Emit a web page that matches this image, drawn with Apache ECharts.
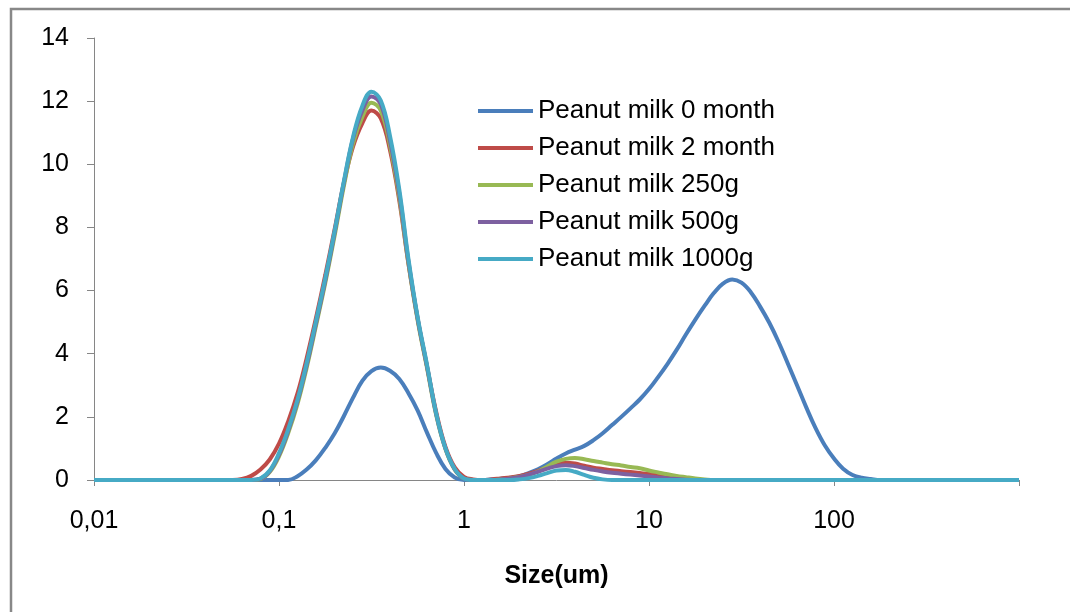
<!DOCTYPE html>
<html>
<head>
<meta charset="utf-8">
<script src="https://cdn.jsdelivr.net/npm/echarts@6/dist/echarts.min.js"></script>
<style>
  html, body { margin: 0; padding: 0; background: #fff; }
  #chart { width: 1070px; height: 612px; }
</style>
</head>
<body>
<div id="chart"></div>
<script>
// particle size (um), log spaced bins
var sizes = [
  0.01, 0.0501, 0.0562, 0.0631, 0.0708, 0.0794, 0.0891, 0.1, 0.112, 0.126,
  0.141, 0.158, 0.178, 0.2, 0.224, 0.251, 0.282, 0.316, 0.355, 0.398,
  0.447, 0.501, 0.562, 0.631, 0.708, 0.794, 0.891, 1.0, 1.12, 1.26,
  1.41, 1.58, 1.78, 2.0, 2.24, 2.51, 2.82, 3.16, 3.55, 3.98,
  4.47, 5.01, 5.62, 6.31, 7.08, 7.94, 8.91, 10, 11.2, 12.6,
  14.1, 15.8, 17.8, 20, 22.4, 25.1, 28.2, 31.6, 35.5, 39.8,
  44.7, 50.1, 56.2, 63.1, 70.8, 79.4, 89.1, 100, 112, 126,
  141, 158, 178, 200, 1000
];

var seriesNames = ['Peanut milk 0 month', 'Peanut milk 2 month', 'Peanut milk 250g', 'Peanut milk 500g', 'Peanut milk 1000g'];
var colors = ['#4A7EBB', '#BE4B48', '#98B954', '#7D60A0', '#46AAC5'];

var milk0 = [
  0, 0, 0, 0, 0, 0, 0, 0, 0, 0.12,
  0.33, 0.62, 1.02, 1.48, 2.02, 2.6, 3.14, 3.45, 3.56, 3.46,
  3.2, 2.75, 2.2, 1.5, 0.85, 0.35, 0.08, 0, 0, 0,
  0.02, 0.04, 0.07, 0.12, 0.22, 0.34, 0.5, 0.68, 0.84, 0.96,
  1.08, 1.26, 1.48, 1.74, 2.0, 2.27, 2.55, 2.88, 3.26, 3.68,
  4.12, 4.6, 5.08, 5.52, 5.92, 6.22, 6.35, 6.25, 5.95, 5.5,
  4.98, 4.38, 3.7, 3.0, 2.3, 1.65, 1.1, 0.68, 0.36, 0.16,
  0.07, 0.03, 0, 0, 0
];
var milk2 = [
  0, 0, 0, 0.03, 0.13, 0.33, 0.65, 1.15, 1.85, 2.75,
  3.85, 5.1, 6.5, 7.95, 9.4, 10.55, 11.3, 11.7, 11.45, 10.45,
  8.85, 6.85, 5.1, 3.6, 2.15, 1.05, 0.4, 0.1, 0.02, 0,
  0.02, 0.05, 0.08, 0.13, 0.2, 0.29, 0.4, 0.5, 0.55, 0.52,
  0.45, 0.39, 0.35, 0.31, 0.28, 0.25, 0.22, 0.19, 0.15, 0.11,
  0.07, 0.04, 0.02, 0, 0, 0, 0, 0, 0, 0,
  0, 0, 0, 0, 0, 0, 0, 0, 0, 0,
  0, 0, 0, 0, 0
];
var milk250 = [
  0, 0, 0, 0, 0, 0.03, 0.25, 0.75, 1.48, 2.42,
  3.55, 4.85, 6.25, 7.75, 9.3, 10.65, 11.5, 11.95, 11.7, 10.6,
  8.95, 6.85, 5.05, 3.55, 2.05, 0.98, 0.33, 0.05, 0, 0,
  0, 0.02, 0.05, 0.1, 0.16, 0.27, 0.43, 0.58, 0.67, 0.7,
  0.66, 0.6, 0.55, 0.5, 0.46, 0.41, 0.37, 0.3, 0.24, 0.18,
  0.13, 0.09, 0.05, 0.02, 0, 0, 0, 0, 0, 0,
  0, 0, 0, 0, 0, 0, 0, 0, 0, 0,
  0, 0, 0, 0, 0
];
var milk500 = [
  0, 0, 0, 0, 0, 0.04, 0.28, 0.8, 1.55, 2.5,
  3.63, 4.93, 6.33, 7.85, 9.4, 10.8, 11.7, 12.15, 11.9, 10.75,
  9.08, 6.92, 5.1, 3.6, 2.08, 1.0, 0.34, 0.05, 0, 0,
  0, 0.02, 0.05, 0.1, 0.17, 0.26, 0.36, 0.44, 0.47, 0.44,
  0.38, 0.32, 0.27, 0.23, 0.2, 0.17, 0.14, 0.11, 0.08, 0.05,
  0.03, 0.01, 0, 0, 0, 0, 0, 0, 0, 0,
  0, 0, 0, 0, 0, 0, 0, 0, 0, 0,
  0, 0, 0, 0, 0
];
var milk1000 = [
  0, 0, 0, 0, 0, 0.05, 0.3, 0.85, 1.6, 2.55,
  3.7, 5.0, 6.4, 7.9, 9.45, 10.85, 11.85, 12.3, 12.02, 10.9,
  9.2, 7.0, 5.15, 3.65, 2.1, 1.0, 0.35, 0.05, 0, 0,
  0, 0, 0, 0.02, 0.06, 0.13, 0.22, 0.3, 0.32, 0.26,
  0.16, 0.07, 0.02, 0, 0, 0, 0, 0, 0, 0,
  0, 0, 0, 0, 0, 0, 0, 0, 0, 0,
  0, 0, 0, 0, 0, 0, 0, 0, 0, 0,
  0, 0, 0, 0, 0
];
var allValues = [milk0, milk2, milk250, milk500, milk1000];

var yTicks = [0, 2, 4, 6, 8, 10, 12, 14];

function pairs(vals) {
  return sizes.map(function (s, i) { return [s, vals[i]]; });
}

var chart = echarts.init(document.getElementById('chart'), null, { renderer: 'canvas' });
var font = 'Liberation Sans, Arial, sans-serif';
var axisGray = '#868686';

chart.setOption({
  animation: false,
  backgroundColor: '#fff',
  color: colors,
  grid: { left: 94, right: 51, top: 38, bottom: 132, containLabel: false },
  graphic: [{
    type: 'rect',
    shape: { x: 11, y: 9, width: 1100, height: 700 },
    style: { fill: 'none', stroke: '#888', lineWidth: 2.5 },
    silent: true
  }],
  legend: {
    orient: 'vertical',
    left: 473,
    top: 91,
    icon: 'rect',
    itemWidth: 55,
    itemHeight: 4,
    itemGap: 7,
    textStyle: { fontFamily: font, fontSize: 26, color: '#000', lineHeight: 30 },
    data: seriesNames
  },
  xAxis: {
    type: 'log',
    logBase: 10,
    min: 0.01,
    max: 1000,
    name: 'Size(um)',
    nameLocation: 'middle',
    nameGap: 84,
    nameTextStyle: { fontFamily: font, fontSize: 25, fontWeight: 'bold', color: '#000' },
    axisLine: { lineStyle: { color: axisGray, width: 1 } },
    axisTick: { show: true, length: 6, lineStyle: { color: axisGray } },
    minorTick: { show: false },
    splitLine: { show: false },
    axisLabel: {
      margin: 29,
      fontFamily: font,
      fontSize: 25,
      color: '#000',
      formatter: function (v) {
        var n = Number(Number(v).toPrecision(6));
        if (n >= 1000) return '';
        return String(n).replace('.', ',');
      }
    }
  },
  yAxis: {
    type: 'value',
    min: yTicks[0],
    max: yTicks[yTicks.length - 1],
    interval: 2,
    axisLine: { show: true, lineStyle: { color: axisGray, width: 1 } },
    axisTick: { show: true, length: 7, lineStyle: { color: axisGray } },
    splitLine: { show: false },
    axisLabel: { margin: 25, fontFamily: font, fontSize: 25, color: '#000' }
  },
  series: seriesNames.map(function (name, k) {
    return {
      name: name,
      type: 'line',
      data: pairs(allValues[k]),
      smooth: 0.4,
      showSymbol: false,
      symbol: 'none',
      lineStyle: { width: 4, color: colors[k] },
      itemStyle: { color: colors[k] },
      z: 2 + k
    };
  })
});
</script>
</body>
</html>
